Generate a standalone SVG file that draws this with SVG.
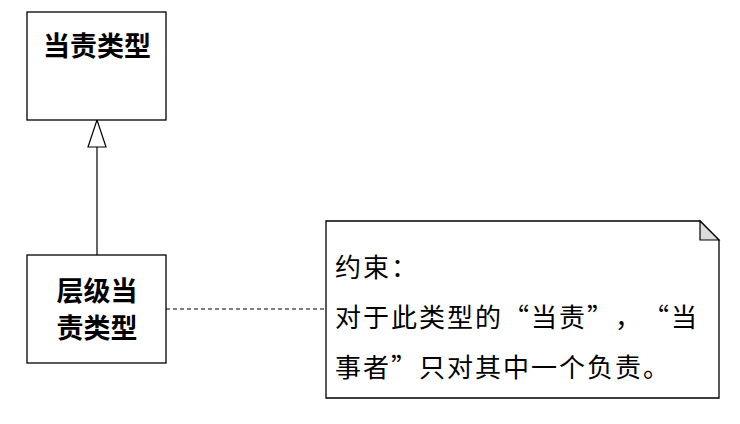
<svg xmlns="http://www.w3.org/2000/svg" width="740" height="424" viewBox="0 0 740 424">
<style>
.box{fill:#fff;stroke:#000;stroke-width:1.3}
.bt{font-family:"Noto Sans CJK SC","Noto Sans",sans-serif;font-size:27px;font-weight:bold;fill:#000;text-anchor:middle}
.nt{font-family:"Noto Sans CJK SC","Noto Sans",sans-serif;font-size:26px;fill:#000}
.ln{fill:none;stroke:#000;stroke-width:1.2}
</style>
<g id="connectors">
<line class="ln" x1="97" y1="147" x2="97" y2="255"/>
<polygon points="97,120 88,147 106,147" fill="#fff" stroke="#000" stroke-width="1.2"/>
<line class="ln" x1="166" y1="309" x2="326" y2="309" stroke-dasharray="4,3"/>
</g>
<g id="node-dangze">
<rect class="box" x="27" y="12" width="139" height="108"/>
<text class="bt" x="97" y="56">当责类型</text>
</g>
<g id="node-cengji">
<rect class="box" x="27" y="255" width="139" height="108"/>
<text class="bt" x="97" y="301">层级当</text>
<text class="bt" x="97" y="338">责类型</text>
</g>
<g id="note">
<path class="box" d="M326,221 H700 L719,240 V398 H326 Z"/>
<path d="M700,221 V240 H719 Z" fill="#dcdcdc" stroke="#000" stroke-width="1.2"/>
<text class="nt" x="335 363 391" y="277">约束：</text>
<text class="nt" x="335 363 391 419 447 475 503 531 559 587 615 643 671" y="327">对于此类型的“当责”，“当</text>
<text class="nt" x="335 363 391 419 447 475 503 531 559 587 615 643" y="377">事者”只对其中一个负责。</text>
</g>
</svg>
